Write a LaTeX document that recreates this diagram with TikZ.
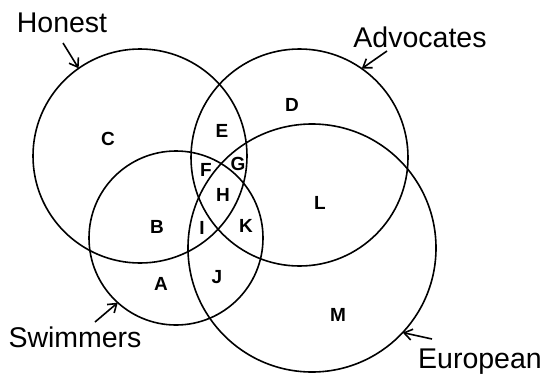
\documentclass[tikz,border=0pt]{standalone}
\usepackage{fontspec}
\setmainfont{Liberation Sans}
\usetikzlibrary{arrows.meta}
\begin{document}
\begin{tikzpicture}[x=1pt,y=-1pt,
  set/.style={circle,draw=black,line width=1.6pt,inner sep=0pt,outer sep=0pt},
  region/.style={inner sep=0pt,font=\fontsize{19}{21}\selectfont\bfseries},
  setname/.style={inner sep=0pt,anchor=base,font=\fontsize{28.5}{30}\selectfont},
  arr/.style={line width=1.6pt,-{Straight Barb[length=8pt,width=11pt,line width=1.6pt]}}]
\useasboundingbox (0,0) rectangle (545,375);
% sets
\node[set,minimum size=214pt] (hon) at (140,156) {};
\node[set,minimum size=217pt] (adv) at (299.5,157.5) {};
\node[set,minimum size=174pt] (swi) at (176,238) {};
\node[set,minimum size=248pt] (eur) at (312,248) {};
% set names
\node[setname] (honL) at (62,32) {Honest};
\node[setname] (advL) at (420,47) {Advocates};
\node[setname] (swiL) at (75,347) {Swimmers};
\node[setname] (eurL) at (480,368) {European};
% arrow starts
\coordinate (honS) at (63,43);
\coordinate (advS) at (387,51);
\coordinate (swiS) at (95,322);
\coordinate (eurS) at (432,339);
\draw[arr] (honS) -- (hon.125.2);
\draw[arr] (advS) -- (adv.55.9);
\draw[arr] (swiS) -- (swi.228.6);
\draw[arr] (eurS) -- (eur.-43);
% regions
\node[region] (C) at (108,139) {C};
\node[region] (D) at (292,105) {D};
\node[region] (E) at (222,131) {E};
\node[region] (F) at (206,170) {F};
\node[region] (G) at (238,164) {G};
\node[region] (H) at (223,195) {H};
\node[region] (B) at (157,227) {B};
\node[region] (I) at (202,228) {I};
\node[region] (K) at (246,226) {K};
\node[region] (A) at (161,284) {A};
\node[region] (J) at (217,277) {J};
\node[region] (L) at (320,203) {L};
\node[region] (M) at (338,315) {M};
\end{tikzpicture}
\end{document}
